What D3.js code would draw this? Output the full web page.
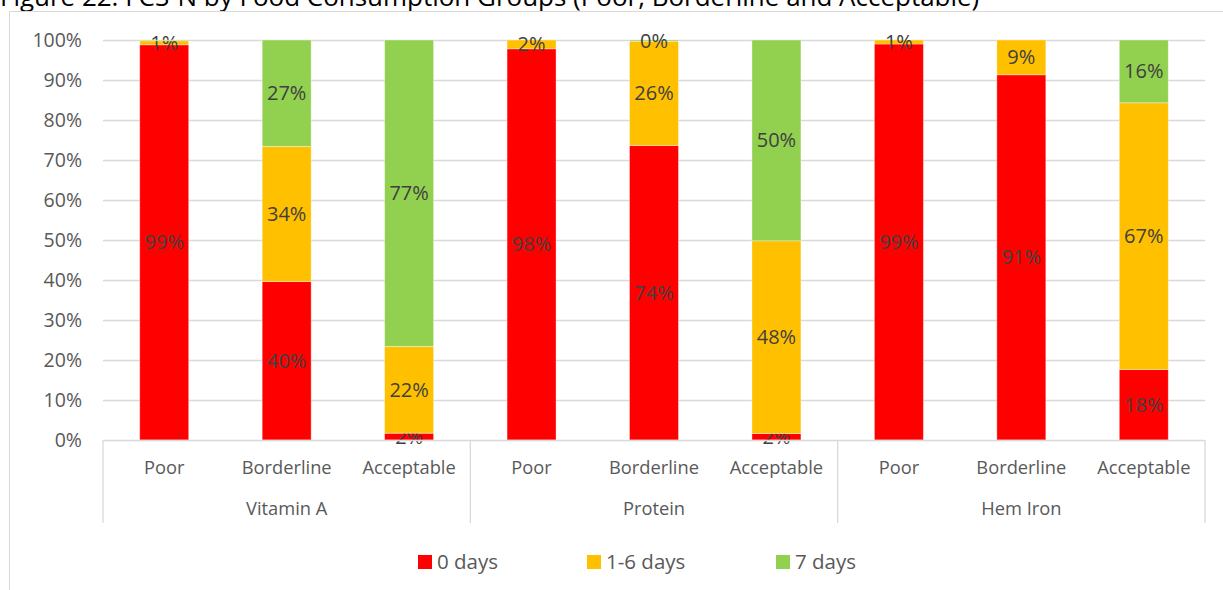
<!doctype html>
<html lang="en">
<head>
<meta charset="UTF-8">
<title>FCS-N by Food Consumption Groups</title>
<script src="https://cdn.jsdelivr.net/npm/d3@7"></script>
<style>
  body { margin: 0; background: #fff; }
  text { font-family: "Open Sans", "Noto Sans", sans-serif; }
</style>
</head>
<body>
<script>
  var width = 1223, height = 590;

  // data
  var groups = ["Vitamin A", "Protein", "Hem Iron"];
  var categories = ["Poor", "Borderline", "Acceptable"];
  var series = ["0 days", "1-6 days", "7 days"];
  var days0    = [98.8, 39.6,  1.7, 97.8, 73.6,  1.6, 99.0, 91.3, 17.6];
  var days1to6 = [ 1.0, 33.8, 21.7,  2.2, 26.1, 48.2,  1.0,  8.7, 66.7];
  var days7    = [ 0.2, 26.6, 76.6,  0.0,  0.3, 50.2,  0.0,  0.0, 15.7];
  var yTicks = [0, 10, 20, 30, 40, 50, 60, 70, 80, 90, 100];
  var colors = ["#FF0000", "#FFC000", "#92D050"];

  var rows = [];
  groups.forEach(function(g, gi) {
    categories.forEach(function(c, ci) {
      var i = gi * categories.length + ci;
      rows.push({ id: i, group: g, cat: c, "0 days": days0[i], "1-6 days": days1to6[i], "7 days": days7[i] });
    });
  });

  var plot = { left: 103, right: 1205, top: 40, bottom: 440 };

  var svg = d3.select("body").append("svg")
      .attr("width", width)
      .attr("height", height);

  // title, cut off at the top like the source image
  var title = svg.append("text")
      .attr("x", 0).attr("y", 6)
      .attr("font-size", 22)
      .attr("fill", "#000")
      .text("Figure 22: FCS-N by Food Consumption Groups (Poor, Borderline and Acceptable)");
  var tw = title.node().getComputedTextLength();
  title.attr("font-size", 22 * 980 / tw);

  // chart border
  svg.append("path")
      .attr("d", "M9.5," + height + "V11.5H" + width)
      .attr("fill", "none")
      .attr("stroke", "#D9D9D9");

  var x = d3.scaleBand()
      .domain(rows.map(function(d) { return d.id; }))
      .range([plot.left, plot.right])
      .paddingInner(0.6)
      .paddingOuter(0.3);

  var y = d3.scaleLinear().domain([0, 100]).range([plot.bottom, plot.top]);

  // gridlines
  svg.append("g").selectAll("line")
      .data(yTicks.filter(function(t) { return t > 0; }))
      .enter().append("line")
      .attr("x1", plot.left).attr("x2", plot.right)
      .attr("y1", function(d) { return Math.round(y(d)) + 0.5; })
      .attr("y2", function(d) { return Math.round(y(d)) + 0.5; })
      .attr("stroke", "#D9D9D9")
      .attr("stroke-width", 1.3);

  // y axis labels
  svg.append("g").selectAll("text")
      .data(yTicks)
      .enter().append("text")
      .attr("x", 82)
      .attr("y", function(d) { return y(d); })
      .attr("dy", "0.35em")
      .attr("text-anchor", "end")
      .attr("font-size", 19.5)
      .attr("fill", "#595959")
      .text(function(d) { return d + "%"; });

  var stack = d3.stack().keys(series);
  var layers = stack(rows);

  var layer = svg.append("g").selectAll("g")
      .data(layers)
      .enter().append("g")
      .attr("fill", function(d, i) { return colors[i]; });

  layer.selectAll("rect")
      .data(function(d) { return d; })
      .enter().append("rect")
      .attr("x", function(d) { return x(d.data.id); })
      .attr("width", x.bandwidth())
      .attr("y", function(d) { return y(d[1]); })
      .attr("height", function(d) { return y(d[0]) - y(d[1]); })
      .attr("stroke", "#fff")
      .attr("stroke-opacity", 0.45)
      .attr("stroke-width", 0.8);

  // bottom axis line + group separators
  var axis = svg.append("g").attr("stroke", "#D9D9D9").attr("stroke-width", 1.3);
  axis.append("line")
      .attr("x1", plot.left).attr("x2", plot.right)
      .attr("y1", plot.bottom + 0.5).attr("y2", plot.bottom + 0.5);
  var groupStep = (plot.right - plot.left) / groups.length;
  axis.selectAll("line.sep")
      .data(d3.range(groups.length + 1))
      .enter().append("line")
      .attr("class", "sep")
      .attr("x1", function(d) { return plot.left + d * groupStep; })
      .attr("x2", function(d) { return plot.left + d * groupStep; })
      .attr("y1", plot.bottom)
      .attr("y2", 523);

  // category labels
  svg.append("g").selectAll("text")
      .data(rows)
      .enter().append("text")
      .attr("x", function(d) { return x(d.id) + x.bandwidth() / 2; })
      .attr("y", 474)
      .attr("text-anchor", "middle")
      .attr("font-size", 18.3)
      .attr("fill", "#595959")
      .text(function(d) { return d.cat; });

  // group labels
  svg.append("g").selectAll("text")
      .data(groups)
      .enter().append("text")
      .attr("x", function(d, i) { return plot.left + (i + 0.5) * groupStep; })
      .attr("y", 515)
      .attr("text-anchor", "middle")
      .attr("font-size", 18.3)
      .attr("fill", "#595959")
      .text(function(d) { return d; });

  // data labels
  var fmt = d3.format(".0f");
  layer.selectAll("text")
      .data(function(d) { return d.filter(function(s) { return s[1] - s[0] >= 0.25; }); })
      .enter().append("text")
      .attr("x", function(d) { return x(d.data.id) + x.bandwidth() / 2; })
      .attr("y", function(d) { return y((d[0] + d[1]) / 2); })
      .attr("dy", "0.35em")
      .attr("text-anchor", "middle")
      .attr("font-size", 20)
      .attr("fill", "#404040")
      .attr("stroke", "none")
      .text(function(d) { return fmt(d[1] - d[0]) + "%"; });

  // legend
  var legendX = [418, 587, 776];
  var legend = svg.append("g").selectAll("g")
      .data(series)
      .enter().append("g")
      .attr("transform", function(d, i) { return "translate(" + legendX[i] + ",562)"; });
  legend.append("rect")
      .attr("x", 0).attr("y", -7)
      .attr("width", 14).attr("height", 14)
      .attr("fill", function(d, i) { return colors[i]; });
  legend.append("text")
      .attr("x", 19)
      .attr("dy", "0.35em")
      .attr("font-size", 20.5)
      .attr("fill", "#595959")
      .text(function(d) { return d; });
</script>
</body>
</html>
